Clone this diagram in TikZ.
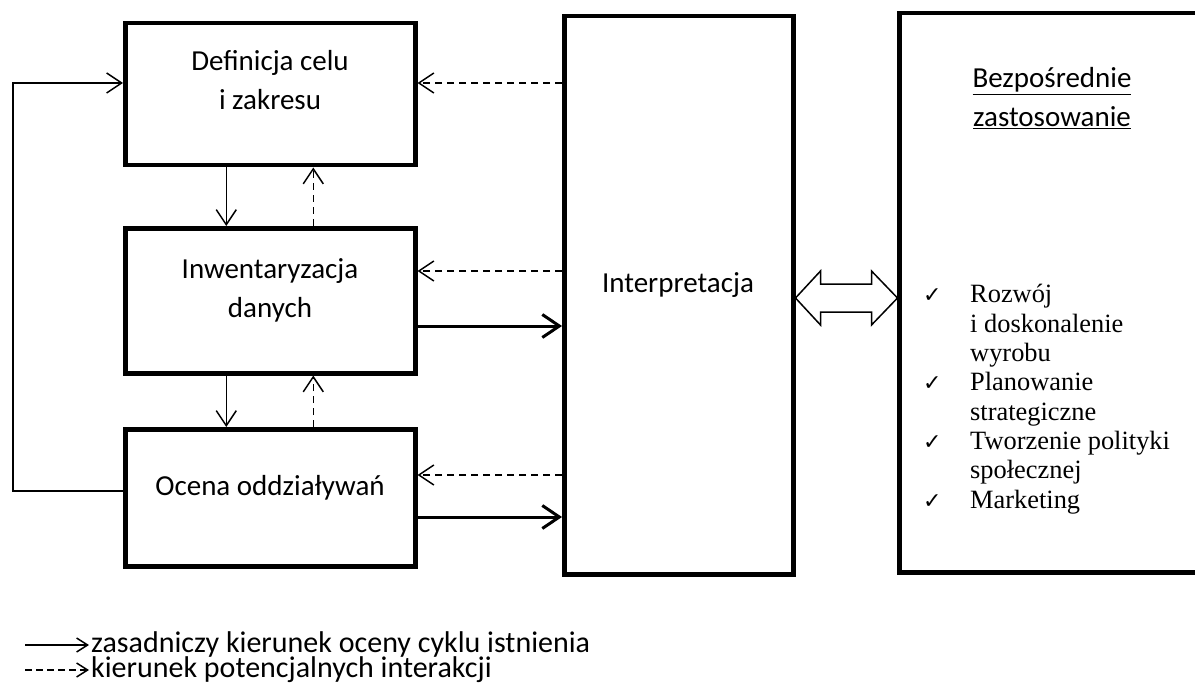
\documentclass[tikz,border=0pt]{standalone}
\usepackage{fontspec}
\setmainfont{Carlito}
\newfontfamily\listfont{Liberation Serif}
\newfontfamily\symbolfont{DejaVu Sans}
\usetikzlibrary{arrows.meta}
\newcommand{\chk}{\makebox[47pt][l]{\symbolfont\fontsize{22}{22}\selectfont ✓}}

\tikzset{
  box/.style={draw, line width=4.5pt, minimum width=290pt, anchor=north west},
  boxtext/.style={font=\fontsize{29}{39}\selectfont, align=center, anchor=base, inner sep=0pt},
  legtext/.style={font=\fontsize{30}{30}\selectfont, anchor=base west, inner sep=0pt},
  thinarr/.style={line width=1.5pt, -{Straight Barb[length=15pt,width=20pt]}},
  dasharr/.style={thinarr, dash pattern=on 7pt off 5pt},
  thickarr/.style={line width=3pt, -{Straight Barb[length=17pt,width=23pt]}},
  legarr/.style={line width=1.5pt, -{Straight Barb[length=11pt,width=14pt]}},
}

\begin{document}
\begin{tikzpicture}[x=1pt, y=-1pt]
    \useasboundingbox (0,0) rectangle (1195,698);
    % bloki
    \node[box, minimum height=142pt] (def) at (123,21) {};
    \node[box, minimum height=145pt] (inw) at (123,226) {};
    \node[box, minimum height=137pt] (ocena) at (123,427) {};
    \node[box, minimum width=229pt, minimum height=558pt] (interp) at (562,14) {};
    \node[box, minimum width=330pt, minimum height=559pt] (app) at (897,11) {}; % prawa krawedz poza kartka
    % base = linia bazowa ostatniego wiersza
    \node[boxtext] (deft) at (270,110) {Definicja celu\\i zakresu};
    \node[boxtext] (inwt) at (270,317) {Inwentaryzacja\\danych};
    \node[boxtext] (ocenat) at (270,495) {Ocena oddziaływań};
    \node[boxtext] (interpt) at (678,292) {Interpretacja};
    \node[boxtext] (appt) at (1052,127) {\underline{Bezpośrednie}\\\underline{zastosowanie}};
    \node[anchor=base west, inner sep=0pt, align=left,
          font=\listfont\fontsize{26.4}{29.3}\selectfont] (list) at (923,508)
        {\chk Rozwój\\\hspace*{47pt}i doskonalenie\\\hspace*{47pt}wyrobu\\
         \chk Planowanie\\\hspace*{47pt}strategiczne\\
         \chk Tworzenie polityki\\\hspace*{47pt}społecznej\\
         \chk Marketing};
    % strzalki pionowe
    \draw[thinarr] ([xshift=-44pt]def.south) -- ([xshift=-44pt]inw.north);
    \draw[dasharr] ([xshift=43pt]inw.north) -- ([xshift=43pt]def.south);
    \draw[thinarr] ([xshift=-44pt]inw.south) -- ([xshift=-44pt]ocena.north);
    \draw[dasharr] ([xshift=43pt]ocena.north) -- ([xshift=43pt]inw.south);
    % strzalki do i od interpretacji
    \draw[dasharr] (interp.west |- 0,83) -- (def.east |- 0,83);
    \draw[dasharr] (interp.west |- 0,271) -- (inw.east |- 0,271);
    \draw[thickarr] (inw.east |- 0,326) -- (interp.west |- 0,326);
    \draw[dasharr] (interp.west |- 0,475) -- (ocena.east |- 0,475);
    \draw[thickarr] (ocena.east |- 0,517) -- (interp.west |- 0,517);
    % petla zwrotna
    \draw[thinarr] (ocena.west |- 0,491) -- (13,491) -- (13,83) -- (def.west |- 0,83);
    % podwojna strzalka blokowa
    \draw[line width=1.5pt, fill=white] (interp.east |- 0,298) -- ++(25,-27) -- ++(0,13) -- ++(51,0)
        -- ++(0,-13) -- ++(26,27) -- ++(-26,27) -- ++(0,-13) -- ++(-51,0) -- ++(0,13) -- cycle;
    % legenda
    \coordinate (leg1) at (25,645);
    \coordinate (leg2) at (25,670);
    \node[legtext] (leg1t) at (91,652) {zasadniczy kierunek oceny cyklu istnienia};
    \node[legtext] (leg2t) at (91,677) {kierunek potencjalnych interakcji};
    \draw[legarr] (leg1) -- ([xshift=-2pt]leg1 -| leg1t.west);
    \draw[legarr, dash pattern=on 7pt off 4pt] (leg2) -- ([xshift=-2pt]leg2 -| leg2t.west);
\end{tikzpicture}
\end{document}
